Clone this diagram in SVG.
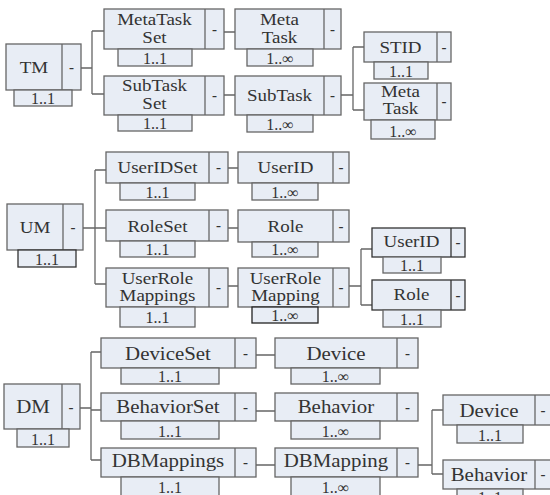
<svg xmlns="http://www.w3.org/2000/svg" width="550" height="495" viewBox="0 0 550 495">
<style>
.box{fill:#e8edf5;stroke:#666;stroke-width:1.3}
.dv{stroke:#666;stroke-width:1.3}
.c{fill:none;stroke:#666;stroke-width:1.3}
text{fill:#333;text-anchor:middle}
.lbl{font-size:16.5px;transform-box:fill-box;transform-origin:center;transform:scaleX(1.15)}
.big{font-size:18px;transform:scaleX(1.16)}
.m{font-size:16px}
.d{font-size:15px;font-weight:bold}
</style>
<rect width="550" height="495" fill="#fff"/>
<g id="connectors" class="c">
<path d="M81,68H92 M92,31V94 M92,31H104 M92,94H104 M224,32H235 M224,95H235 M341,95H353 M353,47V110 M353,47H364 M353,110H364"/>
<path d="M83,228H95 M95,170V284 M95,170H106 M95,228H106 M95,284H106 M228,168H238 M228,228H238 M228,286H238 M349,286H361 M361,249V305 M361,249H372 M361,305H372"/>
<path d="M80,408H91 M91,352V460 M91,352H101 M91,410H101 M91,460H101 M256,355H275 M256,411H275 M256,465H275 M418,465H432 M432,410V474 M432,410H443 M432,474H443"/>
</g>
<g font-family="Liberation Serif, Times New Roman, serif">
<g id="TM"><rect class="box" x="6" y="44" width="75" height="46"/><line class="dv" x1="62" y1="44" x2="62" y2="90"/><rect class="box" x="14" y="90" width="58" height="16"/><text class="lbl" x="34" y="73">TM</text><text class="d" x="71.5" y="72">-</text><text class="m" x="43" y="104">1..1</text></g>
<g id="MetaTaskSet"><rect class="box" x="104" y="9" width="120" height="40"/><line class="dv" x1="205" y1="9" x2="205" y2="49"/><rect class="box" x="118" y="49" width="74" height="17"/><text class="lbl" x="154.5" y="25">MetaTask</text><text class="lbl" x="154.5" y="43">Set</text><text class="d" x="214.5" y="34">-</text><text class="m" x="155" y="64">1..1</text></g>
<g id="SubTaskSet"><rect class="box" x="104" y="76" width="120" height="39"/><line class="dv" x1="205" y1="76" x2="205" y2="115"/><rect class="box" x="118" y="115" width="74" height="16"/><text class="lbl" x="154.5" y="91">SubTask</text><text class="lbl" x="154.5" y="109">Set</text><text class="d" x="214.5" y="100">-</text><text class="m" x="155" y="129">1..1</text></g>
<g id="MetaTask"><rect class="box" x="235" y="9" width="106" height="40"/><line class="dv" x1="324" y1="9" x2="324" y2="49"/><rect class="box" x="247" y="49" width="66" height="17"/><text class="lbl" x="279.5" y="25">Meta</text><text class="lbl" x="279.5" y="43">Task</text><text class="d" x="332.5" y="34">-</text><text class="m" x="280" y="64">1..∞</text></g>
<g id="SubTask"><rect class="box" x="235" y="76" width="106" height="39"/><line class="dv" x1="324" y1="76" x2="324" y2="115"/><rect class="box" x="247" y="115" width="66" height="17"/><text class="lbl" x="279.5" y="101">SubTask</text><text class="d" x="332.5" y="100">-</text><text class="m" x="280" y="130">1..∞</text></g>
<g id="STID"><rect class="box" x="364" y="32" width="87" height="30"/><line class="dv" x1="437" y1="32" x2="437" y2="62"/><rect class="box" x="374" y="62" width="54" height="17"/><text class="lbl" x="400.5" y="53">STID</text><text class="d" x="444" y="52">-</text><text class="m" x="401" y="77">1..1</text></g>
<g id="MetaTask2"><rect class="box" x="364" y="83" width="87" height="37"/><line class="dv" x1="437" y1="83" x2="437" y2="120"/><rect class="box" x="371" y="120" width="64" height="19"/><text class="lbl" x="400.5" y="97">Meta</text><text class="lbl" x="400.5" y="114">Task</text><text class="d" x="444" y="106">-</text><text class="m" x="403" y="137">1..∞</text></g>

<g id="UM"><rect class="box" x="7" y="204" width="76" height="46"/><line class="dv" x1="63" y1="204" x2="63" y2="250"/><rect class="box" x="18" y="250" width="58" height="17" style="stroke:#333"/><text class="lbl" x="35" y="233">UM</text><text class="d" x="73" y="232">-</text><text class="m" x="47" y="265">1..1</text></g>
<g id="UserIDSet"><rect class="box" x="106" y="152" width="122" height="31"/><line class="dv" x1="209" y1="152" x2="209" y2="183"/><rect class="box" x="120" y="183" width="75" height="17"/><text class="lbl" x="157.5" y="173">UserIDSet</text><text class="d" x="218.5" y="172">-</text><text class="m" x="157.5" y="198">1..1</text></g>
<g id="RoleSet"><rect class="box" x="106" y="210" width="122" height="31"/><line class="dv" x1="209" y1="210" x2="209" y2="241"/><rect class="box" x="120" y="241" width="75" height="16"/><text class="lbl" x="157.5" y="232">RoleSet</text><text class="d" x="218.5" y="230">-</text><text class="m" x="157.5" y="255">1..1</text></g>
<g id="UserRoleMappings"><rect class="box" x="106" y="268" width="122" height="39"/><line class="dv" x1="209" y1="268" x2="209" y2="307"/><rect class="box" x="120" y="307" width="75" height="20"/><text class="lbl" x="157.5" y="284">UserRole</text><text class="lbl" x="157.5" y="301">Mappings</text><text class="d" x="218.5" y="292">-</text><text class="m" x="157.5" y="323">1..1</text></g>
<g id="UserID"><rect class="box" x="238" y="152" width="111" height="31"/><line class="dv" x1="333" y1="152" x2="333" y2="183"/><rect class="box" x="252" y="183" width="66" height="17"/><text class="lbl" x="285.5" y="173">UserID</text><text class="d" x="341" y="172">-</text><text class="m" x="285" y="198">1..∞</text></g>
<g id="Role"><rect class="box" x="238" y="210" width="111" height="32"/><line class="dv" x1="333" y1="210" x2="333" y2="242"/><rect class="box" x="252" y="242" width="66" height="15"/><text class="lbl" x="285.5" y="232">Role</text><text class="d" x="341" y="231">-</text><text class="m" x="285" y="255">1..∞</text></g>
<g id="UserRoleMapping"><rect class="box" x="238" y="268" width="111" height="39"/><line class="dv" x1="333" y1="268" x2="333" y2="307"/><rect class="box" x="252" y="307" width="66" height="16" style="stroke:#222"/><text class="lbl" x="285.5" y="284">UserRole</text><text class="lbl" x="285.5" y="301">Mapping</text><text class="d" x="341" y="292">-</text><text class="m" x="285" y="321">1..∞</text></g>
<g id="UserID2"><rect class="box" x="372" y="228" width="93" height="29" style="stroke:#333"/><line class="dv" x1="451" y1="228" x2="451" y2="257" style="stroke:#333"/><rect class="box" x="383" y="257" width="58" height="16"/><text class="lbl" x="411.5" y="247">UserID</text><text class="d" x="458" y="247">-</text><text class="m" x="412" y="271">1..1</text></g>
<g id="Role2"><rect class="box" x="372" y="280" width="93" height="30" style="stroke:#333"/><line class="dv" x1="451" y1="280" x2="451" y2="310" style="stroke:#333"/><rect class="box" x="383" y="310" width="58" height="17"/><text class="lbl" x="411.5" y="300">Role</text><text class="d" x="458" y="300">-</text><text class="m" x="412" y="325">1..1</text></g>

<g id="DM"><rect class="box" x="4" y="384" width="76" height="45"/><line class="dv" x1="62" y1="384" x2="62" y2="429"/><rect class="box" x="17" y="429" width="52" height="18"/><text class="lbl big" x="33" y="413">DM</text><text class="d" x="71" y="412">-</text><text class="m" x="43" y="445">1..1</text></g>
<g id="DeviceSet"><rect class="box" x="101" y="338" width="155" height="30"/><line class="dv" x1="235" y1="338" x2="235" y2="368"/><rect class="box" x="121" y="368" width="98" height="16"/><text class="lbl big" x="168" y="360">DeviceSet</text><text class="d" x="245.5" y="358">-</text><text class="m" x="170" y="382">1..1</text></g>
<g id="BehaviorSet"><rect class="box" x="101" y="393" width="155" height="28"/><line class="dv" x1="235" y1="393" x2="235" y2="421"/><rect class="box" x="121" y="421" width="98" height="18"/><text class="lbl big" x="168" y="413">BehaviorSet</text><text class="d" x="245.5" y="412">-</text><text class="m" x="170" y="437">1..1</text></g>
<g id="DBMappings"><rect class="box" x="101" y="448" width="155" height="29"/><line class="dv" x1="235" y1="448" x2="235" y2="477"/><rect class="box" x="121" y="477" width="98" height="19"/><text class="lbl big" x="168" y="467">DBMappings</text><text class="d" x="245.5" y="467">-</text><text class="m" x="170" y="493">1..1</text></g>
<g id="Device"><rect class="box" x="275" y="338" width="143" height="30"/><line class="dv" x1="397" y1="338" x2="397" y2="368"/><rect class="box" x="291" y="368" width="89" height="16"/><text class="lbl big" x="336" y="360">Device</text><text class="d" x="407.5" y="358">-</text><text class="m" x="335.5" y="382">1..∞</text></g>
<g id="Behavior"><rect class="box" x="275" y="393" width="143" height="28"/><line class="dv" x1="397" y1="393" x2="397" y2="421"/><rect class="box" x="291" y="421" width="89" height="18"/><text class="lbl big" x="336" y="413">Behavior</text><text class="d" x="407.5" y="412">-</text><text class="m" x="335.5" y="437">1..∞</text></g>
<g id="DBMapping"><rect class="box" x="275" y="448" width="143" height="29"/><line class="dv" x1="397" y1="448" x2="397" y2="477"/><rect class="box" x="291" y="477" width="89" height="19"/><text class="lbl big" x="336" y="467">DBMapping</text><text class="d" x="407.5" y="467">-</text><text class="m" x="335.5" y="493">1..∞</text></g>
<g id="Device2"><rect class="box" x="443" y="395" width="109" height="30"/><line class="dv" x1="535" y1="395" x2="535" y2="425"/><rect class="box" x="457" y="425" width="66" height="18"/><text class="lbl big" x="489" y="417">Device</text><text class="d" x="543" y="415">-</text><text class="m" x="490" y="441">1..1</text></g>
<g id="Behavior2"><rect class="box" x="443" y="460" width="109" height="29"/><line class="dv" x1="535" y1="460" x2="535" y2="489"/><rect class="box" x="457" y="489" width="66" height="18"/><text class="lbl big" x="489" y="481">Behavior</text><text class="d" x="543" y="479">-</text><text class="m" x="490" y="503">1..1</text></g>
</g>
</svg>
